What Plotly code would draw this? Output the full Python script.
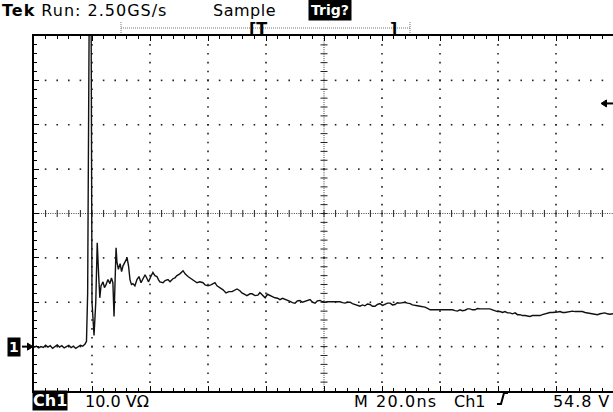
import plotly.graph_objects as go

# Channel 1 record: time in ns from the left edge of the screen, voltage in V
t_ns = [
    0.0, 0.8, 1.6, 2.4, 3.2, 4.0, 4.8, 5.6, 6.4, 7.2, 8.0, 8.8, 9.6, 10.4, 11.2,
    12.0, 12.8, 13.6, 14.4, 15.2, 16.0, 16.8, 17.6, 18.1,
    18.5, 19.2, 19.6, 20.0, 20.7, 21.3, 21.8, 22.3, 22.7, 23.1, 23.8,
    24.3, 24.8, 25.5, 26.2, 26.7, 27.2, 27.6, 27.9, 28.3, 28.6, 29.1, 29.7, 30.2,
    30.7, 31.4, 32.1, 32.6, 33.1, 33.6, 34.1, 34.8, 35.5, 36.2, 36.9, 37.6, 38.3,
    39.0, 39.5, 40.3, 41.0, 41.7, 42.4, 42.9, 43.4, 44.5, 45.2, 46.2, 46.9, 47.9,
    48.6, 49.3, 50.3, 51.4, 52.1, 53.1, 53.8, 54.8, 55.5, 56.2, 57.2, 58.3, 59.0,
    60.0, 61.0, 61.7, 62.4, 63.1, 64.1, 65.2, 66.2, 67.2, 68.3, 69.3, 70.0, 71.0,
    71.7, 72.8, 73.4, 74.5, 75.2, 76.2, 77.2, 77.9, 78.8, 79.7, 80.5, 81.4, 82.3,
    83.1, 84.0, 84.8, 85.7, 86.6, 87.4, 88.3, 89.1, 90.0, 90.8, 91.7, 92.6, 93.4,
    94.3, 95.2, 96.0, 96.9, 97.7, 98.6, 99.5, 100.3, 101.2, 102.1, 102.9, 103.8,
    104.7, 105.5, 106.4, 107.2, 108.1, 109.0, 109.8, 110.7, 111.5, 112.4, 113.3,
    114.1, 115.0, 115.9, 116.7, 117.6, 118.4, 119.3, 120.2, 121.0, 121.9, 122.8,
    123.6, 124.5, 125.3, 126.2, 127.1, 127.9, 128.8, 129.7, 130.5, 131.4, 132.2,
    133.1, 134.0, 134.8, 135.7, 136.6, 137.4, 138.3, 139.1, 140.0, 140.9, 141.7,
    142.6, 143.4, 144.3, 145.2, 146.0, 146.9, 147.7, 148.6, 149.5, 150.3, 151.2,
    152.1, 152.9, 153.8, 154.6, 155.5, 156.4, 157.2, 158.1, 159.0, 159.8, 160.7,
    161.6, 162.4, 163.3, 164.1, 165.0, 165.9, 166.7, 167.6, 168.4, 169.3, 170.2,
    171.0, 171.9, 172.8, 173.6, 174.5, 175.3, 176.2, 177.1, 177.9, 178.8, 179.7,
    180.5, 181.4, 182.2, 183.1, 184.0, 184.8, 185.7, 186.6, 187.4, 188.3, 189.1,
    190.0, 190.9, 191.7, 192.6, 193.4, 194.3, 195.2, 196.0, 196.9, 197.7, 198.6,
    199.7,
]
v_ch1 = [
    -0.2, 0.1, -0.3, 0.0, -0.2, 0.3, -0.1, 0.2, -0.4, 0.1, 0.4, -0.1, 0.2, -0.3, 0.0,
    0.3, -0.2, 0.1, -0.4, 0.0, 0.3, 0.1, 0.6, 1.2,
    12.0, 95.0, 95.0, 10.0, 2.5, 10.0, 23.4, 16.0, 11.0, 13.7, 14.6,
    13.3, 13.9, 15.1, 14.2, 15.5, 14.4, 6.8, 11.7, 22.3, 19.1, 17.4, 18.7, 16.9,
    18.2, 19.1, 20.0, 18.2, 15.1, 14.0, 14.2, 13.7, 15.1, 15.8, 14.4, 15.3, 16.2,
    15.3, 14.6, 15.8, 16.7, 16.0, 15.8, 15.1, 14.6, 14.4, 14.9, 15.1, 14.6, 15.3,
    15.5, 16.0, 16.4, 17.1, 16.4, 15.8, 15.5, 15.1, 14.6, 14.4, 14.6, 14.4, 13.9,
    13.7, 13.9, 14.2, 14.4, 13.7, 13.3, 12.8, 12.1, 12.4, 12.4, 12.8, 13.0, 12.6,
    12.1, 11.7, 11.5, 11.9, 11.9, 11.5, 11.6, 12.2, 11.6, 11.0, 11.8, 11.5, 11.2,
    11.0, 10.9, 10.6, 10.9, 10.7, 10.4, 10.2, 9.9, 9.8, 10.3, 10.4, 10.0, 10.2,
    10.5, 10.6, 10.0, 9.8, 10.3, 10.4, 10.1, 10.0, 10.1, 10.1, 10.0, 10.1,
    10.1, 10.1, 9.9, 9.8, 10.0, 10.0, 9.7, 9.5, 9.3, 9.1, 9.4,
    9.2, 9.6, 9.5, 9.1, 9.1, 9.5, 9.7, 9.3, 9.5, 9.8, 9.8,
    9.4, 9.5, 9.9, 9.8, 10.0, 10.0, 9.8, 9.7, 9.4, 9.2, 9.2,
    9.1, 9.0, 8.9, 8.6, 8.3, 8.3, 8.3, 8.2, 8.3, 8.2, 8.3,
    8.3, 8.2, 8.3, 8.1, 8.0, 8.3, 8.1, 8.2, 8.5, 8.5, 8.3,
    8.3, 8.6, 8.5, 8.5, 8.5, 8.5, 8.5, 8.3, 8.1, 7.9, 7.9,
    7.7, 7.9, 7.6, 7.6, 7.4, 7.6, 7.2, 7.2, 7.0, 7.0, 6.8,
    6.8, 7.0, 7.0, 6.9, 7.0, 7.2, 7.4, 7.6, 7.7, 7.7, 7.7,
    7.8, 7.9, 7.7, 7.7, 7.8, 7.9, 8.0, 7.9, 7.9, 7.9, 7.9,
    7.7, 7.6, 7.6, 7.4, 7.3, 7.2, 7.4, 7.5, 7.6, 7.4, 7.3,
    7.4,
]

# Screen settings
time_per_div_ns = 20.0
volts_per_div = 10.0
n_xdiv = 10
n_ydiv = 8
ground_v = 0.0
trigger_level_v = 54.8

header_brand = "Tek"
header_run = "Run: 2.50GS/s"
header_mode = "Sample"
header_trig = "Trig?"
footer_ch = "Ch1"
footer_scale = "10.0 V\u03a9"
footer_m = "M"
footer_time = "20.0ns"
footer_trig_src = "Ch1"
footer_level = "54.8 V"

W, H = 613, 412
L, T = 34, 36
PW = W - L                  # plot width in px (right edge falls just off screen)
DIVX = 58.0                 # px per horizontal division
PH = 355
B = H - T - PH

x_max = time_per_div_ns * PW / DIVX
y_min = ground_v - volts_per_div
y_max = y_min + n_ydiv * volts_per_div
x_center = n_xdiv * time_per_div_ns / 2
y_center = (y_min + y_max) / 2

FONT = "DejaVu Sans"
DOT = "#222222"


def px(x):
    return (x - L) / PW


def py(y):
    return (T + PH - y) / PH


def volt_to_py(v):
    # volts -> paper y
    return (v - y_min) / (y_max - y_min)


fig = go.Figure()

# dotted graticule: one dot per minor division along each major line
gx, gy = [], []
minor_t = [i * time_per_div_ns / 5 for i in range(1, n_xdiv * 5)]
minor_v = [y_min + i * volts_per_div / 5 for i in range(1, n_ydiv * 5)]
for k in range(1, n_ydiv):
    yv = y_min + k * volts_per_div
    if abs(yv - y_center) < 1e-9:
        continue
    gx += minor_t
    gy += [yv] * len(minor_t)
for k in range(1, n_xdiv):
    xv = k * time_per_div_ns
    if abs(xv - x_center) < 1e-9:
        continue
    gx += [xv] * len(minor_v)
    gy += minor_v
fig.add_trace(go.Scatter(
    x=gx, y=gy, mode="markers",
    marker=dict(symbol="square", size=1.6, color=DOT, line=dict(width=0)),
    hoverinfo="skip", showlegend=False,
))

# tick marks along the centre cross
fig.add_trace(go.Scatter(
    x=minor_t, y=[y_center] * len(minor_t), mode="markers",
    marker=dict(symbol="line-ns-open", size=5, color=DOT, line=dict(color=DOT, width=1)),
    hoverinfo="skip", showlegend=False,
))
fig.add_trace(go.Scatter(
    x=[x_center] * len(minor_v), y=minor_v, mode="markers",
    marker=dict(symbol="line-ew-open", size=5, color=DOT, line=dict(color=DOT, width=1)),
    hoverinfo="skip", showlegend=False,
))

# waveform
fig.add_trace(go.Scatter(
    x=t_ns, y=v_ch1, mode="lines",
    line=dict(color="#111111", width=1.4),
    hoverinfo="skip", showlegend=False,
))

yg = volt_to_py(ground_v)
yt = volt_to_py(trigger_level_v)
hh = 3.5 / PH  # half height of marker arrowheads (paper units)

shapes = [
    # centre cross drawn as fine dotted lines
    dict(type="line", xref="x", yref="paper", x0=x_center, x1=x_center, y0=1, y1=0,
         line=dict(color="#444", width=1, dash="1px,1.2px"), layer="below"),
    dict(type="line", xref="paper", yref="paper", x0=0, x1=1, y0=0.5, y1=0.5,
         line=dict(color="#444", width=1, dash="1px,1.32px"), layer="below"),
    # record bar above the graticule
    dict(type="line", xref="paper", yref="paper", x0=px(121), x1=px(410), y0=py(28), y1=py(28),
         line=dict(color="#777", width=1, dash="1px,1px")),
    dict(type="line", xref="paper", yref="paper", x0=px(121), x1=px(121), y0=py(22), y1=py(34),
         line=dict(color="#777", width=1, dash="1px,1px")),
    dict(type="line", xref="paper", yref="paper", x0=px(410), x1=px(410), y0=py(22), y1=py(34),
         line=dict(color="#777", width=1, dash="1px,1px")),
    # rising-edge trigger slope symbol
    dict(type="path", xref="paper", yref="paper",
         path=f"M {px(497)},{py(404)} L {px(501)},{py(404)} L {px(504)},{py(393)} L {px(508)},{py(393)}",
         line=dict(color="black", width=2)),
    # ground reference arrow (points right, into the graticule)
    dict(type="line", xref="paper", yref="paper", x0=px(22), x1=px(29), y0=yg, y1=yg,
         line=dict(color="black", width=2)),
    dict(type="path", xref="paper", yref="paper",
         path=f"M {px(33)},{yg} L {px(27.5)},{yg + hh} L {px(27.5)},{yg - hh} Z",
         fillcolor="black", line=dict(color="black", width=1)),
    # trigger level arrow (points left, from the right edge)
    dict(type="line", xref="paper", yref="paper", x0=px(606), x1=1, y0=yt, y1=yt,
         line=dict(color="black", width=2)),
    dict(type="path", xref="paper", yref="paper",
         path=f"M {px(601)},{yt} L {px(606.5)},{yt + hh} L {px(606.5)},{yt - hh} Z",
         fillcolor="black", line=dict(color="black", width=1)),
]

f = dict(family=FONT, size=16, color="black")
fb = dict(family=FONT, size=16, color="black", weight="bold")


def sp(s, ls):
    return f'<span style="letter-spacing:{ls}px">{s}</span>'


annotations = [
    dict(text=sp(f"<b>{header_brand}</b> {header_run}", 1.0), x=px(0), y=py(10),
         xanchor="left", yanchor="middle", font=f),
    dict(text=sp(header_mode, 0.5), x=px(211), y=py(10), xanchor="left", yanchor="middle", font=f),
    dict(text=header_trig, x=px(308), y=py(10), xanchor="left", yanchor="middle",
         font=dict(family=FONT, size=14, color="white", weight="bold"), bgcolor="black", borderpad=2),
    dict(text="[T", x=px(247), y=py(28), xanchor="left", yanchor="middle", font=fb),
    dict(text="]", x=px(399), y=py(28), xanchor="right", yanchor="middle", font=fb),
    dict(text=footer_ch, x=px(32), y=py(400), xanchor="left", yanchor="middle",
         font=dict(family=FONT, size=16, color="white", weight="bold"), bgcolor="black", borderpad=0),
    dict(text=footer_scale, x=px(83), y=py(401), xanchor="left", yanchor="middle", font=f),
    dict(text=footer_m, x=px(352), y=py(401), xanchor="left", yanchor="middle", font=f),
    dict(text=sp(footer_time, 1.2), x=px(374), y=py(401), xanchor="left", yanchor="middle", font=f),
    dict(text=footer_trig_src, x=px(452), y=py(401), xanchor="left", yanchor="middle", font=f),
    dict(text=sp(footer_level, 0.9), x=px(612), y=py(401), xanchor="right", yanchor="middle", font=f),
    # ground reference channel label
    dict(text="<b>1</b>", x=px(7), y=yg, xanchor="left", yanchor="middle",
         font=dict(family=FONT, size=14, color="white"), bgcolor="black", borderpad=1),
]
for a in annotations:
    a.setdefault("xref", "paper")
    a.setdefault("yref", "paper")
    a.setdefault("showarrow", False)

fig.update_layout(
    width=W, height=H,
    margin=dict(l=L, r=0, t=T, b=B, pad=0),
    paper_bgcolor="white", plot_bgcolor="white",
    shapes=shapes, annotations=annotations,
    showlegend=False,
)

fig.update_xaxes(
    range=[0, x_max], dtick=time_per_div_ns, tick0=0,
    showticklabels=False, zeroline=False, showgrid=False,
    showline=True, linecolor="black", linewidth=1.5, mirror="ticks",
    ticks="inside", ticklen=5, tickcolor="black", tickwidth=1,
    minor=dict(dtick=time_per_div_ns / 5, ticks="inside", ticklen=3, tickcolor="black", showgrid=False),
)
fig.update_yaxes(
    range=[y_min, y_max], dtick=volts_per_div, tick0=y_min,
    showticklabels=False, zeroline=False, showgrid=False,
    showline=True, linecolor="black", linewidth=1.5, mirror=False,
    ticks="inside", ticklen=5, tickcolor="black", tickwidth=1,
    minor=dict(dtick=volts_per_div / 5, ticks="inside", ticklen=3, tickcolor="black", showgrid=False),
)

fig.write_html("out.html")
